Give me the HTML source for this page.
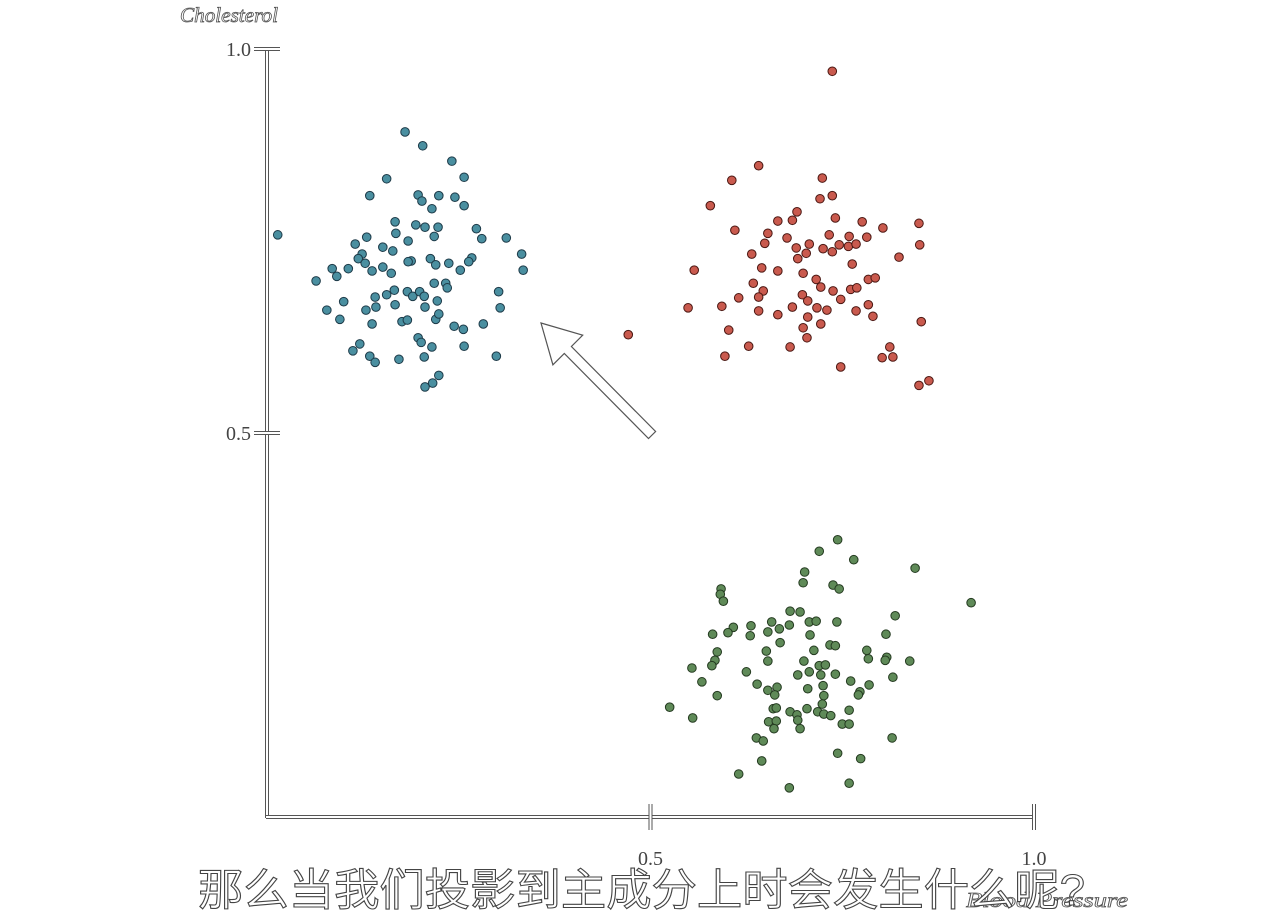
<!DOCTYPE html>
<html><head><meta charset="utf-8">
<style>
html,body{margin:0;padding:0;background:#fff;}
svg{display:block;}
.lbl{font-family:"Liberation Serif",serif;font-size:20px;fill:#444;}
.ax{font-family:"Liberation Serif",serif;font-style:italic;font-size:21px;fill:#fff;stroke:#555;stroke-width:0.8px;}
.cap{font-family:"Liberation Sans","Noto Sans CJK SC",sans-serif;font-size:44px;fill:#fff;stroke:#444;stroke-width:1.1px;}
</style></head>
<body>
<svg id="chart" width="1271" height="923" viewBox="0 0 1271 923">
  <g id="axes"></g>
  <g id="points"></g>
  <polygon points="541,323 582.7,335.2 571.4,346.5 655.6,431.5 648.5,438.5 564.3,353.5 552.9,364.8" fill="#fff" stroke="#555" stroke-width="1.2"/>
  <text class="ax" x="180" y="22" textLength="98" lengthAdjust="spacingAndGlyphs">Cholesterol</text>
  <text class="ax" x="966" y="907" textLength="162" lengthAdjust="spacingAndGlyphs">Blood Pressure</text>
  <text class="cap" x="198" y="905" textLength="887" lengthAdjust="spacingAndGlyphs">那么当我们投影到主成分上时会发生什么呢?</text>
</svg>
<script>
const xTicks = [0.5, 1.0];
const yTicks = [0.5, 1.0];
const xTickLabels = ["0.5", "1.0"];
const yTickLabels = ["0.5", "1.0"];
const seriesNames = ["blue-cluster", "red-cluster", "green-cluster"];
const blueX = [0.180,0.203,0.241,0.257,0.156,0.134,0.197,0.202,0.224,0.245,0.257,0.215,0.014,0.167,0.168,0.194,0.206,0.223,0.218,0.273,0.280,0.312,0.130,0.115,0.151,0.164,0.184,0.124,0.119,0.128,0.188,0.184,0.213,0.220,0.237,0.267,0.263,0.332,0.334,0.252,0.151,0.162,0.137,0.106,0.085,0.091,0.064,0.218,0.233,0.235,0.166,0.141,0.156,0.183,0.190,0.199,0.205,0.222,0.302,0.304,0.100,0.078,0.129,0.142,0.167,0.206,0.095,0.137,0.176,0.183,0.220,0.224,0.244,0.256,0.282,0.197,0.201,0.215,0.257,0.121,0.112,0.134,0.141,0.172,0.205,0.299,0.224,0.216,0.206];
const blueY = [0.892,0.874,0.854,0.833,0.831,0.809,0.810,0.802,0.809,0.807,0.796,0.792,0.758,0.775,0.760,0.771,0.768,0.768,0.756,0.766,0.753,0.754,0.755,0.746,0.742,0.737,0.750,0.733,0.727,0.721,0.724,0.723,0.727,0.719,0.721,0.728,0.723,0.733,0.712,0.712,0.716,0.708,0.711,0.714,0.714,0.704,0.698,0.695,0.695,0.689,0.686,0.677,0.680,0.684,0.678,0.684,0.678,0.672,0.684,0.663,0.671,0.660,0.660,0.664,0.667,0.664,0.648,0.642,0.645,0.647,0.648,0.655,0.639,0.635,0.642,0.624,0.618,0.612,0.613,0.616,0.607,0.600,0.592,0.596,0.599,0.600,0.575,0.565,0.560];
const redX = [0.737,0.641,0.606,0.724,0.737,0.721,0.578,0.691,0.685,0.666,0.741,0.776,0.803,0.850,0.610,0.653,0.649,0.678,0.733,0.759,0.782,0.851,0.707,0.690,0.703,0.692,0.725,0.737,0.746,0.758,0.768,0.632,0.824,0.557,0.645,0.666,0.763,0.699,0.716,0.722,0.738,0.761,0.769,0.784,0.793,0.634,0.647,0.641,0.549,0.593,0.615,0.698,0.705,0.748,0.641,0.666,0.685,0.717,0.730,0.768,0.784,0.790,0.705,0.722,0.699,0.704,0.853,0.471,0.602,0.628,0.597,0.682,0.812,0.802,0.816,0.748,0.850,0.863];
const redY = [0.971,0.848,0.829,0.832,0.809,0.805,0.796,0.788,0.777,0.776,0.780,0.775,0.767,0.773,0.764,0.760,0.747,0.754,0.758,0.756,0.755,0.745,0.746,0.741,0.734,0.727,0.740,0.736,0.745,0.743,0.746,0.733,0.729,0.712,0.715,0.711,0.720,0.708,0.700,0.690,0.685,0.687,0.689,0.700,0.702,0.695,0.685,0.677,0.663,0.665,0.676,0.680,0.672,0.674,0.659,0.654,0.664,0.663,0.660,0.659,0.667,0.652,0.651,0.642,0.637,0.624,0.645,0.628,0.634,0.613,0.600,0.612,0.612,0.598,0.599,0.586,0.562,0.568];
const greenX = [0.744,0.720,0.765,0.845,0.701,0.699,0.738,0.746,0.592,0.591,0.595,0.918,0.682,0.695,0.819,0.707,0.716,0.743,0.658,0.631,0.608,0.601,0.581,0.630,0.653,0.668,0.681,0.708,0.669,0.807,0.734,0.741,0.713,0.782,0.587,0.651,0.584,0.580,0.554,0.653,0.700,0.784,0.808,0.806,0.838,0.720,0.728,0.625,0.692,0.707,0.722,0.741,0.816,0.567,0.639,0.761,0.785,0.725,0.653,0.665,0.662,0.705,0.773,0.771,0.587,0.726,0.724,0.525,0.660,0.664,0.704,0.759,0.682,0.691,0.692,0.718,0.726,0.735,0.555,0.654,0.664,0.661,0.695,0.750,0.759,0.638,0.647,0.815,0.744,0.774,0.645,0.615,0.759,0.681];
const greenY = [0.361,0.346,0.335,0.324,0.319,0.305,0.302,0.297,0.297,0.290,0.281,0.279,0.268,0.267,0.262,0.254,0.255,0.254,0.254,0.249,0.247,0.240,0.238,0.236,0.241,0.245,0.250,0.237,0.227,0.238,0.224,0.223,0.217,0.217,0.215,0.216,0.204,0.197,0.194,0.203,0.203,0.206,0.208,0.204,0.203,0.197,0.198,0.189,0.185,0.189,0.185,0.186,0.182,0.176,0.173,0.177,0.172,0.171,0.165,0.169,0.159,0.167,0.163,0.159,0.158,0.158,0.147,0.143,0.141,0.142,0.141,0.139,0.137,0.133,0.126,0.137,0.134,0.132,0.129,0.124,0.125,0.115,0.115,0.121,0.121,0.103,0.099,0.103,0.083,0.076,0.073,0.056,0.044,0.038];

const NS = "http://www.w3.org/2000/svg";
const X0 = 267, X1 = 1034, Y0 = 817, Y1 = 49;
function sx(v){ return X0 + v * (X1 - X0); }
function sy(v){ return Y0 - v * (Y0 - Y1); }
function mk(tag, attrs, parent){
  const e = document.createElementNS(NS, tag);
  for (const k in attrs) e.setAttribute(k, attrs[k]);
  parent.appendChild(e);
  return e;
}
const axes = document.getElementById('axes');
function outlined(x1,y1,x2,y2,name){
  const g = mk('g', {}, axes);
  
  
  mk('line', {x1,y1,x2,y2,stroke:'#555','stroke-width':4,'stroke-linecap':'butt'}, g);
  mk('line', {x1,y1,x2,y2,stroke:'#fff','stroke-width':2,'stroke-linecap':'butt'}, g);
}
outlined(X0, Y1-1, X0, Y0+1, 'y-axis-line');
outlined(X0-1, Y0, X1, Y0, 'x-axis-line');
yTicks.forEach((t,i)=>{
  outlined(X0-13, sy(t), X0+13, sy(t), 'y-tick');
  const tx = mk('text', {x: X0-16, y: sy(t)+7, 'text-anchor':'end', class:'lbl'}, axes);
  
  
  tx.textContent = yTickLabels[i];
});
xTicks.forEach((t,i)=>{
  outlined(sx(t), Y0-13, sx(t), Y0+13, 'x-tick');
  const tx = mk('text', {x: sx(t), y: Y0+48, 'text-anchor':'middle', class:'lbl'}, axes);
  
  
  tx.textContent = xTickLabels[i];
});
const pts = document.getElementById('points');
const sets = [[blueX, blueY, '#4a8fa0', '#1d3a48'], [redX, redY, '#c95a4e', '#4a1712'], [greenX, greenY, '#5f8a58', '#243a20']];
sets.forEach((s, si)=>{
  const g = mk('g', {}, pts);
  
  
  s[0].forEach((xv, j)=>{
    const c = mk('circle', {cx: sx(xv), cy: sy(s[1][j]), r: 4.3, fill: s[2], stroke: s[3], 'stroke-width': 1}, g);
    
    
  });
});
</script>
</body></html>
